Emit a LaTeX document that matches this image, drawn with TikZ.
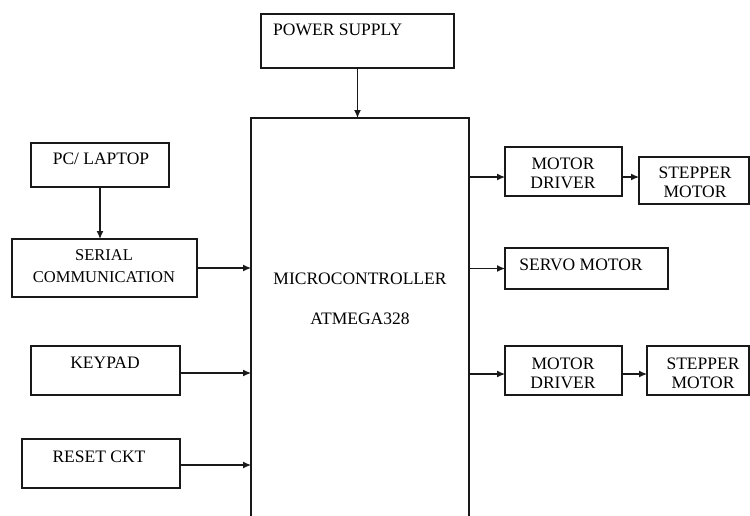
\documentclass[tikz,border=0pt]{standalone}
\usepackage{fontspec}
\setmainfont{Liberation Serif}
\usetikzlibrary{arrows.meta}
\begin{document}
\begin{tikzpicture}[x=1pt,y=-1pt,
  box/.style={draw=black!90, line width=1.2pt, inner sep=0pt, outer sep=0pt},
  lbl/.style={inner sep=0pt, align=center, font=\fontsize{17.5}{19}\selectfont, text=black},
  arr/.style={draw=black!90, line width=1.2pt, -{Latex[length=8pt,width=7pt]}}]
\fill[white] (0,0) rectangle (750,515);
\useasboundingbox (0,0) rectangle (750,515);
% boxes
\node[box, minimum width=193, minimum height=54] (ps) at (357.5,41) {};
\node[lbl, anchor=west] (pst) at (273,30) {POWER SUPPLY};
\node[box, minimum width=138, minimum height=44] (pc) at (100,165) {};
\node[lbl] (pct) at (101,159) {PC/ LAPTOP};
\node[box, minimum width=185, minimum height=58] (ser) at (104.5,268) {};
\node[lbl, font=\fontsize{16.5}{22}\selectfont] (sert) at (104,266) {SERIAL\\COMMUNICATION};
\node[box, minimum width=149, minimum height=49] (key) at (105.5,370.5) {};
\node[lbl] (keyt) at (105,363) {KEYPAD};
\node[box, minimum width=158, minimum height=49] (rst) at (101,463.5) {};
\node[lbl] (rstt) at (99,457) {RESET CKT};
% microcontroller (bottom edge lies below the page)
\node[inner sep=0pt, outer sep=0pt, minimum width=218, minimum height=412] (mc) at (360,324) {};
\draw[draw=black!90, line width=1.2pt] (mc.south west) -- (mc.north west) -- (mc.north east) -- (mc.south east);
\node[lbl] (mct1) at (360,279) {MICROCONTROLLER};
\node[lbl] (mct2) at (360,319) {ATMEGA328};
% right side
\node[box, minimum width=117, minimum height=49] (md1) at (563.5,171.5) {};
\node[lbl] (md1t) at (563,173.5) {MOTOR\\DRIVER};
\node[box, minimum width=110, minimum height=47] (st1) at (694,180.5) {};
\node[lbl] (st1t) at (695,182.5) {STEPPER\\MOTOR};
\node[box, minimum width=163, minimum height=41] (sv) at (586.5,268.5) {};
\node[lbl] (svt) at (581,265) {SERVO MOTOR};
\node[box, minimum width=117, minimum height=49] (md2) at (563.5,370.5) {};
\node[lbl] (md2t) at (563,373) {MOTOR\\DRIVER};
\node[box, minimum width=102, minimum height=49] (st2) at (698,370.5) {};
\node[lbl] (st2t) at (703,373) {STEPPER\\MOTOR};
% connectors
\draw[arr] (ps.south) -- (ps.south |- mc.north);
\draw[arr] (pc.south) -- (pc.south |- ser.north);
\draw[arr] (ser.east) -- (ser.east -| mc.west);
\draw[arr] ([yshift=-2.5pt]key.east) -- ([yshift=-2.5pt]key.east -| mc.west);
\draw[arr] ([yshift=-1.5pt]rst.east) -- ([yshift=-1.5pt]rst.east -| mc.west);
\draw[arr] ([yshift=-5.5pt]md1.west -| mc.east) -- ([yshift=-5.5pt]md1.west);
\draw[arr] ([yshift=-5.5pt]md1.east) -- ([yshift=-5.5pt]md1.east -| st1.west);
\draw[arr] (sv.west -| mc.east) -- (sv.west);
\draw[arr] ([yshift=-3.5pt]md2.west -| mc.east) -- ([yshift=-3.5pt]md2.west);
\draw[arr] ([yshift=-3.5pt]md2.east) -- ([yshift=-3.5pt]md2.east -| st2.west);
\end{tikzpicture}
\end{document}
